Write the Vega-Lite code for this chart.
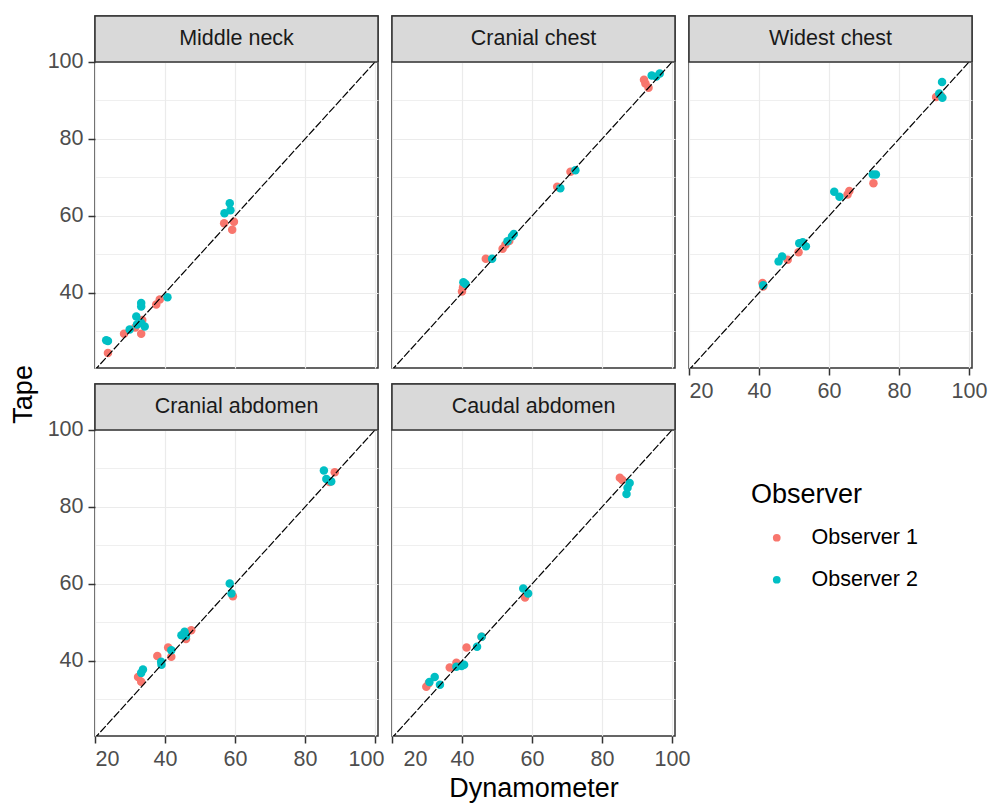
{
  "$schema": "https://vega.github.io/schema/vega-lite/v6.json",
  "background": "white",
  "padding": {"left": 10, "top": 14, "right": 5, "bottom": 5},
  "datasets": {
    "pts": [
      {"panel": "Middle neck", "observer": "Observer 1", "dyn": 23.7, "tape": 24.4},
      {"panel": "Middle neck", "observer": "Observer 1", "dyn": 28.3, "tape": 29.4},
      {"panel": "Middle neck", "observer": "Observer 1", "dyn": 31.5, "tape": 31.0},
      {"panel": "Middle neck", "observer": "Observer 1", "dyn": 33.2, "tape": 29.4},
      {"panel": "Middle neck", "observer": "Observer 1", "dyn": 33.5, "tape": 33.0},
      {"panel": "Middle neck", "observer": "Observer 1", "dyn": 37.5, "tape": 37.0},
      {"panel": "Middle neck", "observer": "Observer 1", "dyn": 38.5, "tape": 38.3},
      {"panel": "Middle neck", "observer": "Observer 1", "dyn": 56.9, "tape": 58.1},
      {"panel": "Middle neck", "observer": "Observer 1", "dyn": 59.7, "tape": 58.5},
      {"panel": "Middle neck", "observer": "Observer 1", "dyn": 59.2, "tape": 56.4},
      {"panel": "Middle neck", "observer": "Observer 2", "dyn": 23.7, "tape": 27.5},
      {"panel": "Middle neck", "observer": "Observer 2", "dyn": 23.2, "tape": 27.7},
      {"panel": "Middle neck", "observer": "Observer 2", "dyn": 29.9, "tape": 30.5},
      {"panel": "Middle neck", "observer": "Observer 2", "dyn": 31.8, "tape": 33.9},
      {"panel": "Middle neck", "observer": "Observer 2", "dyn": 33.2, "tape": 37.4},
      {"panel": "Middle neck", "observer": "Observer 2", "dyn": 33.2, "tape": 36.5},
      {"panel": "Middle neck", "observer": "Observer 2", "dyn": 33.2, "tape": 32.2},
      {"panel": "Middle neck", "observer": "Observer 2", "dyn": 34.2, "tape": 31.3},
      {"panel": "Middle neck", "observer": "Observer 2", "dyn": 32.0, "tape": 31.8},
      {"panel": "Middle neck", "observer": "Observer 2", "dyn": 40.7, "tape": 38.9},
      {"panel": "Middle neck", "observer": "Observer 2", "dyn": 57.0, "tape": 60.7},
      {"panel": "Middle neck", "observer": "Observer 2", "dyn": 58.5, "tape": 63.3},
      {"panel": "Middle neck", "observer": "Observer 2", "dyn": 58.7, "tape": 61.5},

      {"panel": "Cranial chest", "observer": "Observer 1", "dyn": 40.0, "tape": 40.4},
      {"panel": "Cranial chest", "observer": "Observer 1", "dyn": 40.3, "tape": 41.5},
      {"panel": "Cranial chest", "observer": "Observer 1", "dyn": 46.8, "tape": 48.9},
      {"panel": "Cranial chest", "observer": "Observer 1", "dyn": 51.6, "tape": 51.5},
      {"panel": "Cranial chest", "observer": "Observer 1", "dyn": 52.4, "tape": 52.5},
      {"panel": "Cranial chest", "observer": "Observer 1", "dyn": 53.5, "tape": 53.5},
      {"panel": "Cranial chest", "observer": "Observer 1", "dyn": 67.2, "tape": 67.6},
      {"panel": "Cranial chest", "observer": "Observer 1", "dyn": 71.0, "tape": 71.5},
      {"panel": "Cranial chest", "observer": "Observer 1", "dyn": 92.4, "tape": 94.4},
      {"panel": "Cranial chest", "observer": "Observer 1", "dyn": 93.3, "tape": 93.3},
      {"panel": "Cranial chest", "observer": "Observer 1", "dyn": 92.0, "tape": 95.4},
      {"panel": "Cranial chest", "observer": "Observer 2", "dyn": 40.4, "tape": 42.8},
      {"panel": "Cranial chest", "observer": "Observer 2", "dyn": 41.0, "tape": 42.3},
      {"panel": "Cranial chest", "observer": "Observer 2", "dyn": 48.6, "tape": 48.9},
      {"panel": "Cranial chest", "observer": "Observer 2", "dyn": 53.0, "tape": 53.4},
      {"panel": "Cranial chest", "observer": "Observer 2", "dyn": 54.3, "tape": 54.7},
      {"panel": "Cranial chest", "observer": "Observer 2", "dyn": 54.8, "tape": 55.3},
      {"panel": "Cranial chest", "observer": "Observer 2", "dyn": 68.1, "tape": 67.2},
      {"panel": "Cranial chest", "observer": "Observer 2", "dyn": 72.4, "tape": 71.9},
      {"panel": "Cranial chest", "observer": "Observer 2", "dyn": 94.2, "tape": 96.5},
      {"panel": "Cranial chest", "observer": "Observer 2", "dyn": 96.5, "tape": 97.0},
      {"panel": "Cranial chest", "observer": "Observer 2", "dyn": 95.5, "tape": 96.2},

      {"panel": "Widest chest", "observer": "Observer 1", "dyn": 41.0, "tape": 42.6},
      {"panel": "Widest chest", "observer": "Observer 1", "dyn": 41.2, "tape": 41.7},
      {"panel": "Widest chest", "observer": "Observer 1", "dyn": 48.2, "tape": 48.6},
      {"panel": "Widest chest", "observer": "Observer 1", "dyn": 51.3, "tape": 50.6},
      {"panel": "Widest chest", "observer": "Observer 1", "dyn": 65.3, "tape": 65.6},
      {"panel": "Widest chest", "observer": "Observer 1", "dyn": 65.8, "tape": 66.5},
      {"panel": "Widest chest", "observer": "Observer 1", "dyn": 72.7, "tape": 68.5},
      {"panel": "Widest chest", "observer": "Observer 1", "dyn": 90.6, "tape": 90.9},
      {"panel": "Widest chest", "observer": "Observer 1", "dyn": 92.0, "tape": 91.2},
      {"panel": "Widest chest", "observer": "Observer 2", "dyn": 41.2, "tape": 42.0},
      {"panel": "Widest chest", "observer": "Observer 2", "dyn": 46.6, "tape": 49.5},
      {"panel": "Widest chest", "observer": "Observer 2", "dyn": 45.6, "tape": 48.2},
      {"panel": "Widest chest", "observer": "Observer 2", "dyn": 51.5, "tape": 52.9},
      {"panel": "Widest chest", "observer": "Observer 2", "dyn": 53.4, "tape": 52.1},
      {"panel": "Widest chest", "observer": "Observer 2", "dyn": 52.5, "tape": 53.2},
      {"panel": "Widest chest", "observer": "Observer 2", "dyn": 61.5, "tape": 66.3},
      {"panel": "Widest chest", "observer": "Observer 2", "dyn": 63.0, "tape": 65.0},
      {"panel": "Widest chest", "observer": "Observer 2", "dyn": 72.5, "tape": 70.8},
      {"panel": "Widest chest", "observer": "Observer 2", "dyn": 73.4, "tape": 70.8},
      {"panel": "Widest chest", "observer": "Observer 2", "dyn": 91.5, "tape": 91.8},
      {"panel": "Widest chest", "observer": "Observer 2", "dyn": 92.3, "tape": 94.8},
      {"panel": "Widest chest", "observer": "Observer 2", "dyn": 92.4, "tape": 90.7},

      {"panel": "Cranial abdomen", "observer": "Observer 1", "dyn": 32.3, "tape": 35.8},
      {"panel": "Cranial abdomen", "observer": "Observer 1", "dyn": 33.2, "tape": 34.6},
      {"panel": "Cranial abdomen", "observer": "Observer 1", "dyn": 37.8, "tape": 41.3},
      {"panel": "Cranial abdomen", "observer": "Observer 1", "dyn": 40.9, "tape": 43.5},
      {"panel": "Cranial abdomen", "observer": "Observer 1", "dyn": 41.8, "tape": 41.1},
      {"panel": "Cranial abdomen", "observer": "Observer 1", "dyn": 46.0, "tape": 45.7},
      {"panel": "Cranial abdomen", "observer": "Observer 1", "dyn": 47.5, "tape": 48.0},
      {"panel": "Cranial abdomen", "observer": "Observer 1", "dyn": 59.4, "tape": 56.8},
      {"panel": "Cranial abdomen", "observer": "Observer 1", "dyn": 88.5, "tape": 89.0},
      {"panel": "Cranial abdomen", "observer": "Observer 1", "dyn": 87.0, "tape": 86.5},
      {"panel": "Cranial abdomen", "observer": "Observer 2", "dyn": 33.7, "tape": 37.8},
      {"panel": "Cranial abdomen", "observer": "Observer 2", "dyn": 33.2, "tape": 36.9},
      {"panel": "Cranial abdomen", "observer": "Observer 2", "dyn": 38.9, "tape": 39.8},
      {"panel": "Cranial abdomen", "observer": "Observer 2", "dyn": 39.0, "tape": 39.0},
      {"panel": "Cranial abdomen", "observer": "Observer 2", "dyn": 41.8, "tape": 42.8},
      {"panel": "Cranial abdomen", "observer": "Observer 2", "dyn": 44.7, "tape": 46.7},
      {"panel": "Cranial abdomen", "observer": "Observer 2", "dyn": 45.6, "tape": 47.6},
      {"panel": "Cranial abdomen", "observer": "Observer 2", "dyn": 46.0, "tape": 46.5},
      {"panel": "Cranial abdomen", "observer": "Observer 2", "dyn": 58.5, "tape": 60.1},
      {"panel": "Cranial abdomen", "observer": "Observer 2", "dyn": 59.0, "tape": 57.5},
      {"panel": "Cranial abdomen", "observer": "Observer 2", "dyn": 85.4, "tape": 89.5},
      {"panel": "Cranial abdomen", "observer": "Observer 2", "dyn": 86.1, "tape": 87.3},
      {"panel": "Cranial abdomen", "observer": "Observer 2", "dyn": 87.5, "tape": 86.6},

      {"panel": "Caudal abdomen", "observer": "Observer 1", "dyn": 29.8, "tape": 33.3},
      {"panel": "Caudal abdomen", "observer": "Observer 1", "dyn": 30.5, "tape": 34.2},
      {"panel": "Caudal abdomen", "observer": "Observer 1", "dyn": 36.5, "tape": 38.3},
      {"panel": "Caudal abdomen", "observer": "Observer 1", "dyn": 38.4, "tape": 39.5},
      {"panel": "Caudal abdomen", "observer": "Observer 1", "dyn": 41.3, "tape": 43.5},
      {"panel": "Caudal abdomen", "observer": "Observer 1", "dyn": 45.6, "tape": 46.3},
      {"panel": "Caudal abdomen", "observer": "Observer 1", "dyn": 58.0, "tape": 56.5},
      {"panel": "Caudal abdomen", "observer": "Observer 1", "dyn": 85.1, "tape": 87.6},
      {"panel": "Caudal abdomen", "observer": "Observer 1", "dyn": 85.8, "tape": 87.0},
      {"panel": "Caudal abdomen", "observer": "Observer 2", "dyn": 32.2, "tape": 35.8},
      {"panel": "Caudal abdomen", "observer": "Observer 2", "dyn": 30.7, "tape": 34.5},
      {"panel": "Caudal abdomen", "observer": "Observer 2", "dyn": 33.7, "tape": 33.8},
      {"panel": "Caudal abdomen", "observer": "Observer 2", "dyn": 39.9, "tape": 38.7},
      {"panel": "Caudal abdomen", "observer": "Observer 2", "dyn": 40.6, "tape": 39.0},
      {"panel": "Caudal abdomen", "observer": "Observer 2", "dyn": 38.4, "tape": 38.5},
      {"panel": "Caudal abdomen", "observer": "Observer 2", "dyn": 44.3, "tape": 43.7},
      {"panel": "Caudal abdomen", "observer": "Observer 2", "dyn": 45.6, "tape": 46.3},
      {"panel": "Caudal abdomen", "observer": "Observer 2", "dyn": 57.5, "tape": 58.8},
      {"panel": "Caudal abdomen", "observer": "Observer 2", "dyn": 58.9, "tape": 57.5},
      {"panel": "Caudal abdomen", "observer": "Observer 2", "dyn": 87.9, "tape": 86.2},
      {"panel": "Caudal abdomen", "observer": "Observer 2", "dyn": 87.0, "tape": 83.4},
      {"panel": "Caudal abdomen", "observer": "Observer 2", "dyn": 87.3, "tape": 85.0}
    ],
    "diag": [{"d": 10}, {"d": 115}]
  },
  "title": {"text": "Tape", "orient": "left", "anchor": "middle", "fontSize": 27, "fontWeight": "normal", "font": "Liberation Sans", "color": "black", "offset": 8, "dx": 14},
  "columns": 3,
  "spacing": {"column": 14, "row": 16},
  "bounds": "flush",
  "concat": [
    {
      "width": 283, "height": 352,
      "layer": [
        {"data": {"name": "pts"}, "transform": [{"filter": "datum.panel == 'Middle neck'"}],
         "mark": {"type": "point", "filled": true, "opacity": 1, "size": 72},
         "encoding": {
           "x": {"field": "dyn", "type": "quantitative", "scale": {"domain": [20, 100.86], "nice": false, "zero": false},
                 "axis": {"title": null, "values": [20, 30, 40, 50, 60, 70, 80, 90, 100], "labels": false, "ticks": false, "domain": false,
                          "gridWidth": {"condition": {"test": "datum.value % 20 === 0", "value": 1.2}, "value": 0.8}}},
           "y": {"field": "tape", "type": "quantitative", "scale": {"domain": [20.5, 111.95], "nice": false, "zero": false},
                 "axis": {"title": null, "values": [30, 40, 50, 60, 70, 80, 90, 100], "domain": false,
                          "labelExpr": "datum.value % 20 === 0 ? datum.label : ''",
                          "tickOpacity": {"condition": {"test": "datum.value % 20 === 0", "value": 1}, "value": 0},
                          "gridWidth": {"condition": {"test": "datum.value % 20 === 0", "value": 1.2}, "value": 0.8}}},
           "color": {"field": "observer", "type": "nominal", "scale": {"domain": ["Observer 1", "Observer 2"], "range": ["#F8766D", "#00BFC4"]},
                     "legend": {"title": "Observer", "orient": "none", "legendX": 656, "legendY": 466}}
         }},
        {"data": {"name": "diag"}, "mark": {"type": "line", "clip": true, "color": "black", "strokeWidth": 1.2, "strokeDash": [8, 2]},
         "encoding": {"x": {"field": "d", "type": "quantitative"}, "y": {"field": "d", "type": "quantitative"}}},
        {"data": {"values": [{"panel": "Middle neck"}]}, "mark": {"type": "rect", "fill": "#D9D9D9", "stroke": "#333333", "strokeWidth": 1.5},
         "encoding": {"x": {"datum": 20, "type": "quantitative"}, "x2": {"datum": 100.86}, "y": {"datum": 100, "type": "quantitative"}, "y2": {"datum": 111.95}}},
        {"data": {"values": [{"panel": "Middle neck"}]}, "mark": {"type": "text", "fontSize": 21.5, "color": "#1A1A1A", "font": "Liberation Sans"},
         "encoding": {"x": {"datum": 60.43, "type": "quantitative"}, "y": {"datum": 106, "type": "quantitative"}, "text": {"field": "panel"}}}
      ]
    },
    {
      "width": 283, "height": 352,
      "layer": [
        {"data": {"name": "pts"}, "transform": [{"filter": "datum.panel == 'Cranial chest'"}],
         "mark": {"type": "point", "filled": true, "opacity": 1, "size": 72},
         "encoding": {
           "x": {"field": "dyn", "type": "quantitative", "scale": {"domain": [20, 100.86], "nice": false, "zero": false},
                 "axis": {"title": null, "values": [20, 30, 40, 50, 60, 70, 80, 90, 100], "labels": false, "ticks": false, "domain": false,
                          "gridWidth": {"condition": {"test": "datum.value % 20 === 0", "value": 1.2}, "value": 0.8}}},
           "y": {"field": "tape", "type": "quantitative", "scale": {"domain": [20.5, 111.95], "nice": false, "zero": false},
                 "axis": {"title": null, "values": [30, 40, 50, 60, 70, 80, 90, 100], "labels": false, "ticks": false, "domain": false,
                          "gridWidth": {"condition": {"test": "datum.value % 20 === 0", "value": 1.2}, "value": 0.8}}},
           "color": {"field": "observer", "type": "nominal"}
         }},
        {"data": {"name": "diag"}, "mark": {"type": "line", "clip": true, "color": "black", "strokeWidth": 1.2, "strokeDash": [8, 2]},
         "encoding": {"x": {"field": "d", "type": "quantitative"}, "y": {"field": "d", "type": "quantitative"}}},
        {"data": {"values": [{"panel": "Cranial chest"}]}, "mark": {"type": "rect", "fill": "#D9D9D9", "stroke": "#333333", "strokeWidth": 1.5},
         "encoding": {"x": {"datum": 20, "type": "quantitative"}, "x2": {"datum": 100.86}, "y": {"datum": 100, "type": "quantitative"}, "y2": {"datum": 111.95}}},
        {"data": {"values": [{"panel": "Cranial chest"}]}, "mark": {"type": "text", "fontSize": 21.5, "color": "#1A1A1A", "font": "Liberation Sans"},
         "encoding": {"x": {"datum": 60.43, "type": "quantitative"}, "y": {"datum": 106, "type": "quantitative"}, "text": {"field": "panel"}}}
      ]
    },
    {
      "width": 283, "height": 352,
      "layer": [
        {"data": {"name": "pts"}, "transform": [{"filter": "datum.panel == 'Widest chest'"}],
         "mark": {"type": "point", "filled": true, "opacity": 1, "size": 72},
         "encoding": {
           "x": {"field": "dyn", "type": "quantitative", "scale": {"domain": [20, 100.86], "nice": false, "zero": false},
                 "axis": {"title": null, "values": [20, 30, 40, 50, 60, 70, 80, 90, 100], "domain": false,
                          "labelExpr": "datum.value % 20 === 0 ? datum.label : ''",
                          "tickOpacity": {"condition": {"test": "datum.value % 20 === 0", "value": 1}, "value": 0},
                          "gridWidth": {"condition": {"test": "datum.value % 20 === 0", "value": 1.2}, "value": 0.8}}},
           "y": {"field": "tape", "type": "quantitative", "scale": {"domain": [20.5, 111.95], "nice": false, "zero": false},
                 "axis": {"title": null, "values": [30, 40, 50, 60, 70, 80, 90, 100], "labels": false, "ticks": false, "domain": false,
                          "gridWidth": {"condition": {"test": "datum.value % 20 === 0", "value": 1.2}, "value": 0.8}}},
           "color": {"field": "observer", "type": "nominal"}
         }},
        {"data": {"name": "diag"}, "mark": {"type": "line", "clip": true, "color": "black", "strokeWidth": 1.2, "strokeDash": [8, 2]},
         "encoding": {"x": {"field": "d", "type": "quantitative"}, "y": {"field": "d", "type": "quantitative"}}},
        {"data": {"values": [{"panel": "Widest chest"}]}, "mark": {"type": "rect", "fill": "#D9D9D9", "stroke": "#333333", "strokeWidth": 1.5},
         "encoding": {"x": {"datum": 20, "type": "quantitative"}, "x2": {"datum": 100.86}, "y": {"datum": 100, "type": "quantitative"}, "y2": {"datum": 111.95}}},
        {"data": {"values": [{"panel": "Widest chest"}]}, "mark": {"type": "text", "fontSize": 21.5, "color": "#1A1A1A", "font": "Liberation Sans"},
         "encoding": {"x": {"datum": 60.43, "type": "quantitative"}, "y": {"datum": 106, "type": "quantitative"}, "text": {"field": "panel"}}}
      ]
    },
    {
      "width": 283, "height": 352,
      "layer": [
        {"data": {"name": "pts"}, "transform": [{"filter": "datum.panel == 'Cranial abdomen'"}],
         "mark": {"type": "point", "filled": true, "opacity": 1, "size": 72},
         "encoding": {
           "x": {"field": "dyn", "type": "quantitative", "scale": {"domain": [20, 100.86], "nice": false, "zero": false},
                 "axis": {"title": null, "values": [20, 30, 40, 50, 60, 70, 80, 90, 100], "domain": false,
                          "labelExpr": "datum.value % 20 === 0 ? datum.label : ''",
                          "labelOffset": {"condition": {"test": "datum.value === 100", "value": -9}, "value": 0},
                          "tickOpacity": {"condition": {"test": "datum.value % 20 === 0", "value": 1}, "value": 0},
                          "gridWidth": {"condition": {"test": "datum.value % 20 === 0", "value": 1.2}, "value": 0.8}}},
           "y": {"field": "tape", "type": "quantitative", "scale": {"domain": [20.5, 111.95], "nice": false, "zero": false},
                 "axis": {"title": null, "values": [30, 40, 50, 60, 70, 80, 90, 100], "domain": false,
                          "labelExpr": "datum.value % 20 === 0 ? datum.label : ''",
                          "tickOpacity": {"condition": {"test": "datum.value % 20 === 0", "value": 1}, "value": 0},
                          "gridWidth": {"condition": {"test": "datum.value % 20 === 0", "value": 1.2}, "value": 0.8}}},
           "color": {"field": "observer", "type": "nominal"}
         }},
        {"data": {"name": "diag"}, "mark": {"type": "line", "clip": true, "color": "black", "strokeWidth": 1.2, "strokeDash": [8, 2]},
         "encoding": {"x": {"field": "d", "type": "quantitative"}, "y": {"field": "d", "type": "quantitative"}}},
        {"data": {"values": [{"panel": "Cranial abdomen"}]}, "mark": {"type": "rect", "fill": "#D9D9D9", "stroke": "#333333", "strokeWidth": 1.5},
         "encoding": {"x": {"datum": 20, "type": "quantitative"}, "x2": {"datum": 100.86}, "y": {"datum": 100, "type": "quantitative"}, "y2": {"datum": 111.95}}},
        {"data": {"values": [{"panel": "Cranial abdomen"}]}, "mark": {"type": "text", "fontSize": 21.5, "color": "#1A1A1A", "font": "Liberation Sans"},
         "encoding": {"x": {"datum": 60.43, "type": "quantitative"}, "y": {"datum": 106, "type": "quantitative"}, "text": {"field": "panel"}}}
      ]
    },
    {
      "width": 283, "height": 352,
      "layer": [
        {"data": {"name": "pts"}, "transform": [{"filter": "datum.panel == 'Caudal abdomen'"}],
         "mark": {"type": "point", "filled": true, "opacity": 1, "size": 72},
         "encoding": {
           "x": {"field": "dyn", "type": "quantitative", "scale": {"domain": [20, 100.86], "nice": false, "zero": false},
                 "axis": {"title": "Dynamometer", "values": [20, 30, 40, 50, 60, 70, 80, 90, 100], "domain": false,
                          "labelExpr": "datum.value % 20 === 0 ? datum.label : ''",
                          "labelOffset": {"condition": {"test": "datum.value === 20", "value": 11}, "value": 0},
                          "tickOpacity": {"condition": {"test": "datum.value % 20 === 0", "value": 1}, "value": 0},
                          "gridWidth": {"condition": {"test": "datum.value % 20 === 0", "value": 1.2}, "value": 0.8}}},
           "y": {"field": "tape", "type": "quantitative", "scale": {"domain": [20.5, 111.95], "nice": false, "zero": false},
                 "axis": {"title": null, "values": [30, 40, 50, 60, 70, 80, 90, 100], "labels": false, "ticks": false, "domain": false,
                          "gridWidth": {"condition": {"test": "datum.value % 20 === 0", "value": 1.2}, "value": 0.8}}},
           "color": {"field": "observer", "type": "nominal"}
         }},
        {"data": {"name": "diag"}, "mark": {"type": "line", "clip": true, "color": "black", "strokeWidth": 1.2, "strokeDash": [8, 2]},
         "encoding": {"x": {"field": "d", "type": "quantitative"}, "y": {"field": "d", "type": "quantitative"}}},
        {"data": {"values": [{"panel": "Caudal abdomen"}]}, "mark": {"type": "rect", "fill": "#D9D9D9", "stroke": "#333333", "strokeWidth": 1.5},
         "encoding": {"x": {"datum": 20, "type": "quantitative"}, "x2": {"datum": 100.86}, "y": {"datum": 100, "type": "quantitative"}, "y2": {"datum": 111.95}}},
        {"data": {"values": [{"panel": "Caudal abdomen"}]}, "mark": {"type": "text", "fontSize": 21.5, "color": "#1A1A1A", "font": "Liberation Sans"},
         "encoding": {"x": {"datum": 60.43, "type": "quantitative"}, "y": {"datum": 106, "type": "quantitative"}, "text": {"field": "panel"}}}
      ]
    }
  ],
  "config": {
    "font": "Liberation Sans",
    "view": {"stroke": "#333333", "strokeWidth": 1.5},
    "axis": {
      "gridColor": "#EBEBEB",
      "tickColor": "#333333",
      "tickWidth": 1.5,
      "tickSize": 7,
      "labelFont": "Liberation Sans",
      "labelFontSize": 21.5,
      "labelColor": "#4D4D4D",
      "labelPadding": 5,
      "titleFont": "Liberation Sans",
      "titleFontSize": 27,
      "titleFontWeight": "normal",
      "titleColor": "black",
      "titlePadding": 6
    },
    "legend": {
      "titleFont": "Liberation Sans",
      "titleFontSize": 27,
      "titleFontWeight": "normal",
      "titleColor": "black",
      "titlePadding": 18,
      "labelFont": "Liberation Sans",
      "labelFontSize": 21.5,
      "labelColor": "black",
      "symbolType": "circle",
      "symbolSize": 60,
      "symbolOffset": 15,
      "labelOffset": 24,
      "rowPadding": 19
    }
  }
}
